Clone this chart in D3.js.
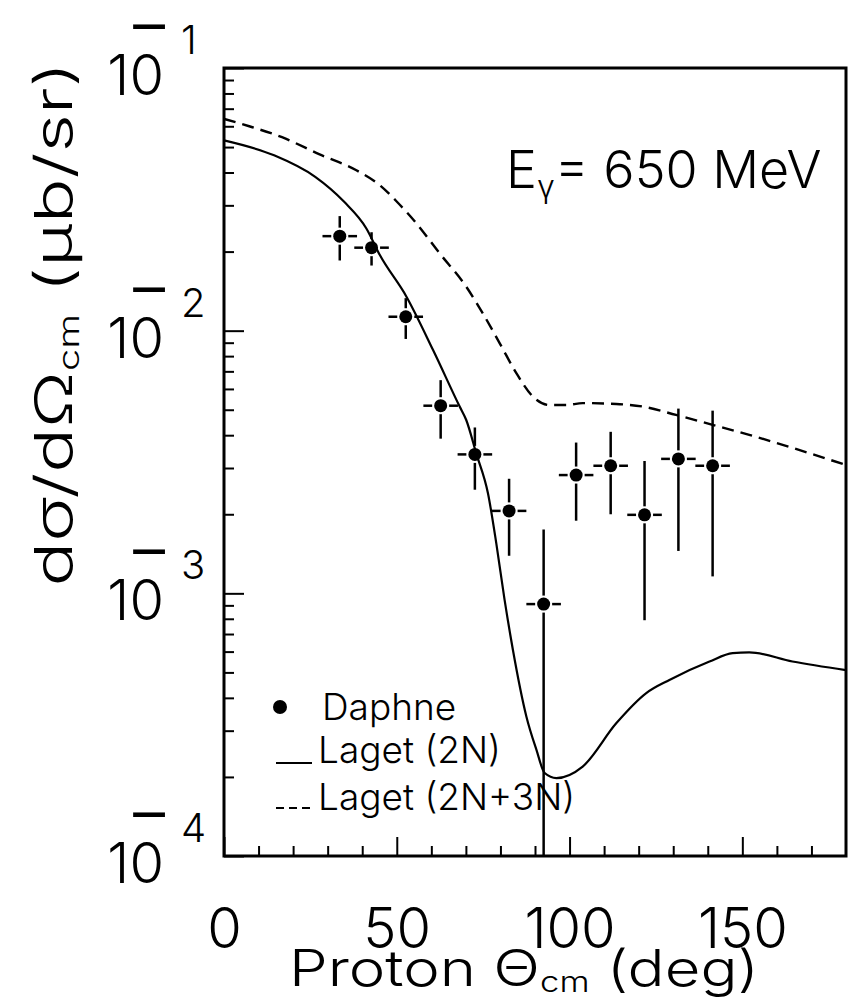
<!DOCTYPE html>
<html lang="en">
<head>
<meta charset="UTF-8">
<title>Proton cross section, E = 650 MeV</title>
<script src="https://d3js.org/d3.v7.min.js"></script>
<style>
  body { margin: 0; background: #ffffff; }
  svg text { font-family: "Inter", "DejaVu Sans", sans-serif; font-weight: 300; fill: #000; }
</style>
</head>
<body>
<div id="chart"></div>
<script>

// Daphne data points (angle in deg, cross section in microbarn/sr)
var angle    = [33.5, 42.7, 52.6, 62.7, 72.6, 82.5, 92.5, 101.9, 111.9, 121.7, 131.5, 141.4];
var angleErr = [5, 5, 5, 5, 5, 5, 5, 5, 5, 5, 5, 5];
var sigma    = [0.0229, 0.0207, 0.0113, 0.00518, 0.00338, 0.00206, 0.00091, 0.00282, 0.00306, 0.00199, 0.00325, 0.00306];
var sigmaErr = [0.0044, 0.0030, 0.0020, 0.0013, 0.0009, 0.00067, 0.00084, 0.00093, 0.00106, 0.0012, 0.0018, 0.0019];

// Laget (2N)
var theta2N = [0, 14.5, 26.4, 34.7, 41.2, 45.1, 52.8, 60.5, 68.2, 70.1, 73.0, 76.4, 78.8, 81.2, 83.6, 87.5, 90.4, 92.8, 96.2, 103.8, 113.5, 122.2, 128.9, 140.5, 147.2, 152, 164.5, 180];
var laget2N = [0.053, 0.0465, 0.0385, 0.0310, 0.0245, 0.0194, 0.01347, 0.00844, 0.00514, 0.00457, 0.00341, 0.0024, 0.00155, 0.000944, 0.00061, 0.00034, 0.000254, 0.000207, 0.000198, 0.000219, 0.00032, 0.000417, 0.000468, 0.00055, 0.000592, 0.000596, 0.00055, 0.00051];

// Laget (2N+3N)
var theta3N = [0, 7.3, 16.8, 27.5, 38.3, 45.4, 49.9, 55.7, 62.4, 70.1, 74.9, 79.8, 84.6, 89.4, 94.2, 99, 103.8, 113.5, 121.2, 130.8, 141.4, 152, 180];
var laget3N = [0.0640, 0.0600, 0.0545, 0.0470, 0.0408, 0.0355, 0.0311, 0.0256, 0.0197, 0.0147, 0.01164, 0.00895, 0.00689, 0.00561, 0.00521, 0.00521, 0.0053, 0.00526, 0.00514, 0.00478, 0.00438, 0.00401, 0.00308];

var xMajor = [0, 50, 100, 150];
var xMinor = [10, 20, 30, 40, 60, 70, 80, 90, 110, 120, 130, 140, 160, 170];
var yDecades = [1e-4, 1e-3, 1e-2, 1e-1];
var yExpo = ["4", "3", "2", "1"];

var W = 848, H = 1004;
var pLeft = 224, pRight = 846, pTop = 68, pBottom = 856;

var svg = d3.select("#chart").append("svg")
    .attr("width", W)
    .attr("height", H);

var x = d3.scaleLinear().domain([0, 180]).range([pLeft, pRight]);
var y = d3.scaleLog().domain([1e-4, 1e-1]).range([pBottom, pTop]);

// minor y ticks 2..9 per decade
var yMinor = [];
yDecades.slice(0, 3).forEach(function(d) {
  for (var k = 2; k <= 9; k++) yMinor.push(d * k);
});

// ticks, pointing inward
svg.append("g")
  .attr("transform", "translate(0," + pBottom + ")")
  .call(d3.axisBottom(x).tickValues(xMinor).tickSize(-10).tickSizeOuter(0).tickFormat(""))
  .call(function(g) { g.select(".domain").remove(); })
  .selectAll("line").attr("stroke-width", 2);

svg.append("g")
  .attr("transform", "translate(0," + pBottom + ")")
  .call(d3.axisBottom(x).tickValues(xMajor).tickSize(-19).tickSizeOuter(0).tickPadding(52))
  .call(function(g) { g.select(".domain").remove(); })
  .call(function(g) {
    g.selectAll("line").attr("stroke-width", 2);
    g.selectAll("text").style("font-size", "56px").attr("font-family", null);
  });

svg.append("g")
  .attr("transform", "translate(" + pLeft + ",0)")
  .call(d3.axisLeft(y).tickValues(yMinor).tickSize(-10).tickSizeOuter(0).tickFormat(""))
  .call(function(g) { g.select(".domain").remove(); })
  .selectAll("line").attr("stroke-width", 2);

svg.append("g")
  .attr("transform", "translate(" + pLeft + ",0)")
  .call(d3.axisLeft(y).tickValues(yDecades).tickSize(-20).tickSizeOuter(0).tickFormat(""))
  .call(function(g) { g.select(".domain").remove(); })
  .selectAll("line").attr("stroke-width", 2);

// y tick labels 10^-n (long superscript minus sits over the 0)
yDecades.forEach(function(d, i) {
  var ty = y(d);
  svg.append("text")
    .attr("x", 164).attr("y", ty + 27)
    .attr("text-anchor", "end")
    .style("font-size", "56px")
    .text("10");
  svg.append("text")
    .attr("x", 149).attr("y", ty - 21)
    .attr("text-anchor", "middle")
    .style("font-size", "72px")
    .text("\u2212");
  svg.append("text")
    .attr("x", 181).attr("y", ty - 14)
    .style("font-size", "40px")
    .text(yExpo[i]);
});

// frame
svg.append("rect")
  .attr("x", pLeft).attr("y", pTop)
  .attr("width", pRight - pLeft).attr("height", pBottom - pTop)
  .attr("fill", "none")
  .attr("stroke", "#000")
  .attr("stroke-width", 3);

// curves
var line = d3.line()
  .x(function(d) { return x(d[0]); })
  .y(function(d) { return y(d[1]); })
  .curve(d3.curveMonotoneX);

svg.append("path")
  .datum(d3.zip(theta2N, laget2N))
  .attr("fill", "none")
  .attr("stroke", "#000")
  .attr("stroke-width", 2.2)
  .attr("d", line);

svg.append("path")
  .datum(d3.zip(theta3N, laget3N))
  .attr("fill", "none")
  .attr("stroke", "#000")
  .attr("stroke-width", 2.4)
  .attr("stroke-dasharray", "12,7")
  .attr("d", line);

// data points with error bars
var r = 6.5, gap = 2;
angle.forEach(function(a, i) {
  var cx = x(a), cy = y(sigma[i]);
  var lo = sigma[i] - sigmaErr[i];
  var yLo = lo > 1e-4 ? y(lo) : pBottom;
  var yHi = y(sigma[i] + sigmaErr[i]);
  var g = svg.append("g").attr("stroke", "#000").attr("stroke-width", 2.5);
  g.append("line").attr("x1", cx).attr("x2", cx).attr("y1", yHi).attr("y2", cy - r - gap);
  g.append("line").attr("x1", cx).attr("x2", cx).attr("y1", cy + r + gap).attr("y2", yLo);
  g.append("line").attr("x1", x(a - angleErr[i])).attr("x2", cx - r - gap).attr("y1", cy).attr("y2", cy);
  g.append("line").attr("x1", cx + r + gap).attr("x2", x(a + angleErr[i])).attr("y1", cy).attr("y2", cy);
  svg.append("circle").attr("cx", cx).attr("cy", cy).attr("r", r).attr("fill", "#000");
});

// legend
svg.append("circle").attr("cx", 280).attr("cy", 707).attr("r", 7).attr("fill", "#000");
svg.append("text").attr("x", 322).attr("y", 720).style("font-size", "37px").text("Daphne");
svg.append("line").attr("x1", 276).attr("x2", 312).attr("y1", 763).attr("y2", 763)
  .attr("stroke", "#000").attr("stroke-width", 2);
svg.append("text").attr("x", 318).attr("y", 763).style("font-size", "37px").text("Laget (2N)");
svg.append("line").attr("x1", 276).attr("x2", 312).attr("y1", 808).attr("y2", 808)
  .attr("stroke", "#000").attr("stroke-width", 2).attr("stroke-dasharray", "8,5");
svg.append("text").attr("x", 318).attr("y", 810).style("font-size", "37px").text("Laget (2N+3N)");

// energy label
var e = svg.append("text").attr("x", 506).attr("y", 188).style("font-size", "52px");
e.append("tspan").text("E");
e.append("tspan").attr("dy", 10).style("font-size", "32px").text("\u03b3");
e.append("tspan").attr("dy", -10).text("= 650 MeV");

// axis titles
var xt = svg.append("text")
  .attr("x", 524).attr("y", 986)
  .attr("text-anchor", "middle")
  .attr("textLength", 470)
  .attr("lengthAdjust", "spacingAndGlyphs")
  .style("font-size", "50px");
xt.append("tspan").text("Proton \u0398");
xt.append("tspan").attr("dy", 6).style("font-size", "28px").text("cm");
xt.append("tspan").attr("dy", -6).text(" (deg)");

var yt = svg.append("text")
  .attr("transform", "translate(72,324) rotate(-90)")
  .attr("text-anchor", "middle")
  .attr("textLength", 525)
  .attr("lengthAdjust", "spacingAndGlyphs")
  .style("font-size", "52px");
yt.append("tspan").text("d\u03c3/d\u03a9");
yt.append("tspan").attr("dy", 7).style("font-size", "28px").text("cm");
yt.append("tspan").attr("dy", -7).text(" (\u03bcb/sr)");

</script>
</body>
</html>
